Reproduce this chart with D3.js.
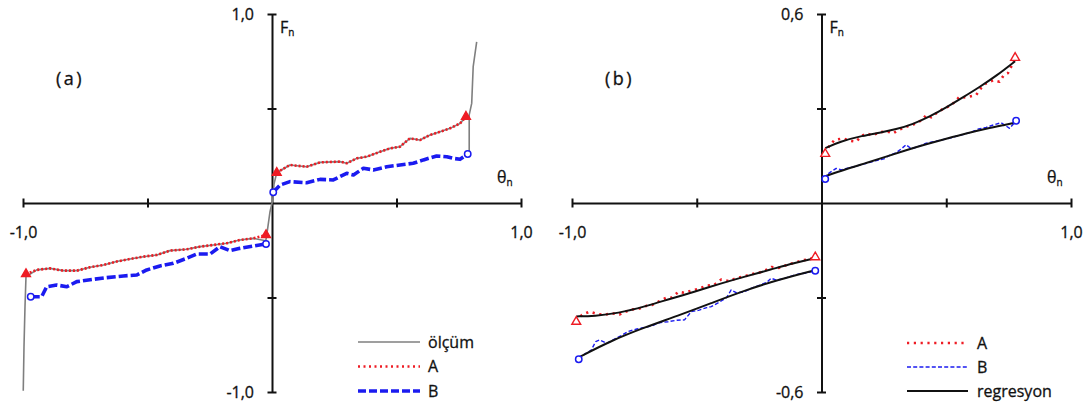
<!DOCTYPE html>
<html><head><meta charset="utf-8">
<script src="https://cdn.jsdelivr.net/npm/d3@7"></script>
<style>
body{margin:0;background:#fff;}
svg{display:block;}
text{font-family:"Open Sans",sans-serif;fill:#111;stroke:#111;stroke-width:0.3px;}
</style></head>
<body><svg id="c" width="1089" height="405"></svg>
<script>
// ---------- Panel (a) data: [theta_n, F_n] ----------
const aTicks = [-1, -0.5, 0.5, 1];
const aOlcum = [[-0.999,-0.993],[-0.996,-0.76],[-0.992,-0.549],[-0.988,-0.39],[-0.945,-0.354],[-0.892,-0.346],[-0.838,-0.358],[-0.784,-0.358],[-0.731,-0.34],[-0.677,-0.328],[-0.624,-0.31],[-0.57,-0.296],[-0.517,-0.284],[-0.463,-0.275],[-0.41,-0.252],[-0.343,-0.245],[-0.289,-0.231],[-0.236,-0.222],[-0.182,-0.213],[-0.129,-0.196],[-0.075,-0.187],[-0.025,-0.2],[-0.021,-0.169],[-0.008,-0.046],[0.003,0.016],[0.008,0.1],[0.019,0.16],[0.072,0.201],[0.139,0.192],[0.193,0.215],[0.273,0.219],[0.3,0.21],[0.34,0.236],[0.38,0.245],[0.434,0.271],[0.474,0.289],[0.514,0.298],[0.554,0.342],[0.594,0.333],[0.635,0.36],[0.675,0.377],[0.715,0.395],[0.755,0.421],[0.779,0.457]];
const aOlcumEdge = [[0.786,0.259],[0.792,0.271],[0.792,0.466],[0.802,0.527],[0.808,0.721],[0.822,0.853]];
const aALeft = [[-0.988,-0.376],[-0.945,-0.354],[-0.892,-0.346],[-0.838,-0.358],[-0.784,-0.358],[-0.731,-0.34],[-0.677,-0.328],[-0.624,-0.31],[-0.57,-0.296],[-0.517,-0.284],[-0.463,-0.275],[-0.41,-0.252],[-0.343,-0.245],[-0.289,-0.231],[-0.236,-0.222],[-0.182,-0.213],[-0.129,-0.196],[-0.075,-0.187],[-0.024,-0.169]];
const aARight = [[0.019,0.16],[0.072,0.201],[0.139,0.192],[0.193,0.215],[0.273,0.219],[0.3,0.21],[0.34,0.236],[0.38,0.245],[0.434,0.271],[0.474,0.289],[0.514,0.298],[0.554,0.342],[0.594,0.333],[0.635,0.36],[0.675,0.377],[0.715,0.395],[0.755,0.421],[0.779,0.457]];
const aBLeft = [[-0.969,-0.496],[-0.925,-0.496],[-0.905,-0.443],[-0.865,-0.434],[-0.824,-0.443],[-0.784,-0.416],[-0.718,-0.404],[-0.664,-0.395],[-0.597,-0.386],[-0.543,-0.381],[-0.503,-0.354],[-0.45,-0.333],[-0.396,-0.319],[-0.343,-0.293],[-0.302,-0.27],[-0.249,-0.27],[-0.209,-0.231],[-0.169,-0.252],[-0.129,-0.24],[-0.075,-0.228],[-0.024,-0.217]];
const aBRight = [[0.005,0.057],[0.032,0.095],[0.072,0.113],[0.139,0.107],[0.193,0.125],[0.246,0.122],[0.3,0.157],[0.327,0.148],[0.367,0.184],[0.407,0.175],[0.461,0.192],[0.514,0.201],[0.567,0.21],[0.608,0.228],[0.661,0.249],[0.702,0.245],[0.728,0.236],[0.755,0.231],[0.786,0.259]];

// ---------- Panel (b) data ----------
const bXTicks = [-1, -0.5, 0.5, 1];
const bYTicks = [-0.6, -0.3, 0.3, 0.6];
const bALeft = [[-0.983,-0.377],[-0.96,-0.355],[-0.93,-0.345],[-0.9,-0.352],[-0.87,-0.355],[-0.84,-0.35],[-0.81,-0.354],[-0.786,-0.345],[-0.76,-0.338],[-0.73,-0.335],[-0.7,-0.326],[-0.68,-0.324],[-0.65,-0.312],[-0.62,-0.3],[-0.6,-0.3],[-0.573,-0.282],[-0.55,-0.285],[-0.52,-0.278],[-0.49,-0.272],[-0.46,-0.262],[-0.43,-0.26],[-0.402,-0.243],[-0.37,-0.248],[-0.34,-0.238],[-0.31,-0.233],[-0.28,-0.226],[-0.25,-0.221],[-0.22,-0.212],[-0.2,-0.203],[-0.17,-0.206],[-0.14,-0.197],[-0.11,-0.19],[-0.08,-0.183],[-0.05,-0.178],[-0.025,-0.172]];
const bARight = [[0.015,0.156],[0.03,0.18],[0.052,0.2],[0.085,0.205],[0.11,0.198],[0.139,0.195],[0.16,0.212],[0.179,0.221],[0.205,0.215],[0.232,0.224],[0.26,0.228],[0.286,0.221],[0.31,0.232],[0.339,0.242],[0.37,0.25],[0.4,0.262],[0.42,0.279],[0.44,0.272],[0.46,0.285],[0.49,0.3],[0.52,0.31],[0.553,0.337],[0.58,0.335],[0.62,0.343],[0.64,0.365],[0.66,0.38],[0.69,0.39],[0.713,0.385],[0.73,0.405],[0.747,0.412],[0.765,0.44],[0.776,0.461]];
const bBLeft = [[-0.973,-0.496],[-0.95,-0.48],[-0.923,-0.467],[-0.905,-0.44],[-0.89,-0.435],[-0.86,-0.445],[-0.83,-0.432],[-0.8,-0.42],[-0.776,-0.408],[-0.74,-0.4],[-0.709,-0.395],[-0.68,-0.39],[-0.65,-0.38],[-0.615,-0.377],[-0.58,-0.372],[-0.549,-0.371],[-0.522,-0.345],[-0.49,-0.34],[-0.46,-0.332],[-0.442,-0.329],[-0.41,-0.315],[-0.38,-0.3],[-0.362,-0.276],[-0.34,-0.285],[-0.31,-0.282],[-0.28,-0.27],[-0.25,-0.262],[-0.22,-0.252],[-0.202,-0.239],[-0.18,-0.245],[-0.15,-0.24],[-0.12,-0.232],[-0.09,-0.225],[-0.06,-0.222],[-0.025,-0.215]];
const bBRight = [[0.015,0.076],[0.03,0.095],[0.059,0.11],[0.08,0.105],[0.1,0.11],[0.13,0.115],[0.16,0.122],[0.19,0.128],[0.22,0.135],[0.25,0.14],[0.27,0.15],[0.3,0.16],[0.32,0.172],[0.339,0.185],[0.36,0.172],[0.39,0.18],[0.42,0.19],[0.45,0.195],[0.48,0.2],[0.51,0.205],[0.54,0.212],[0.57,0.218],[0.6,0.225],[0.63,0.235],[0.66,0.24],[0.69,0.248],[0.72,0.255],[0.754,0.237],[0.78,0.261]];
const bRegALeft = [[-0.983,-0.36],[-0.91,-0.359],[-0.816,-0.35],[-0.709,-0.329],[-0.602,-0.303],[-0.509,-0.282],[-0.402,-0.255],[-0.309,-0.234],[-0.202,-0.211],[-0.108,-0.19],[-0.031,-0.176]];
const bRegARight = [[0.015,0.174],[0.072,0.195],[0.166,0.214],[0.232,0.223],[0.299,0.234],[0.366,0.25],[0.433,0.274],[0.5,0.303],[0.566,0.335],[0.633,0.368],[0.7,0.403],[0.776,0.45]];
const bRegBLeft = [[-0.973,-0.49],[-0.843,-0.437],[-0.709,-0.395],[-0.576,-0.358],[-0.442,-0.318],[-0.309,-0.278],[-0.175,-0.244],[-0.025,-0.213]];
const bRegBRight = [[0.015,0.085],[0.099,0.108],[0.179,0.127],[0.259,0.147],[0.339,0.168],[0.42,0.187],[0.5,0.204],[0.58,0.221],[0.66,0.236],[0.74,0.249],[0.776,0.255]];

const legendA = ["ölçüm", "A", "B"];
const legendB = ["A", "B", "regresyon"];

const RED = "#ee1c24", BLUE = "#1b1bf0", GRAY = "#7f7f7f";
const fmt = v => d3.format(".1f")(v).replace(".", ",").replace("−","-");
const svg = d3.select("#c");

function axes(g, x, y, xt, yt, yEnd){
  const xa = g.append("g").attr("transform", `translate(0,${y(0)})`)
    .call(d3.axisBottom(x).tickValues(xt).tickSizeOuter(0)
      .tickFormat(d => Math.abs(d) === 1 ? fmt(d) : ""));
  xa.select(".domain").attr("stroke", "#111").attr("stroke-width", 2);
  xa.selectAll(".tick line").attr("y1", -4.5).attr("y2", 4.5).attr("stroke", "#111").attr("stroke-width", 2);
  xa.selectAll(".tick text").attr("y", 24).attr("font-size", 16).attr("fill", "#111").attr("font-family", "Open Sans");
  const ya = g.append("g").attr("transform", `translate(${x(0)},0)`)
    .call(d3.axisLeft(y).tickValues(yt).tickSizeOuter(0)
      .tickFormat(d => Math.abs(d) === yEnd ? fmt(d) : ""));
  ya.select(".domain").attr("stroke", "#111").attr("stroke-width", 2);
  ya.selectAll(".tick line").attr("x1", -4.5).attr("x2", 4.5).attr("stroke", "#111").attr("stroke-width", 2);
  ya.selectAll(".tick text").attr("x", -18).attr("font-size", 16).attr("fill", "#111").attr("font-family", "Open Sans");
}
function labels(g, x, y, tag){
  g.append("text").attr("x", x(0) + 8).attr("y", 33).attr("font-size", 16)
    .text("F").append("tspan").attr("font-size", 10).attr("dy", 3).text("n");
  g.append("text").attr("x", x(1) - 24).attr("y", 183).attr("font-size", 16)
    .text("θ").append("tspan").attr("font-size", 10).attr("dy", 3).text("n");
  g.append("text").attr("x", x(-1) + 33).attr("y", 85).attr("font-size", 18)
    .attr("letter-spacing", 2.5).text(tag);
}
const line = (x, y, c) => d3.line().x(d => x(d[0])).y(d => y(d[1])).curve(c || d3.curveLinear);
function path(g, data, gen, stroke, w, dash){
  g.append("path").datum(data).attr("d", gen).attr("fill", "none")
    .attr("stroke", stroke).attr("stroke-width", w)
    .attr("stroke-dasharray", dash || null).attr("stroke-linecap", "butt").attr("stroke-linejoin", "round");
}
function tri(g, x, y, p, fill){
  g.append("path").attr("d", d3.symbol(d3.symbolTriangle, 34)())
    .attr("transform", `translate(${x(p[0])},${y(p[1])})`)
    .attr("fill", fill).attr("stroke", RED).attr("stroke-width", 1.4);
}
function circ(g, x, y, p){
  g.append("circle").attr("cx", x(p[0])).attr("cy", y(p[1])).attr("r", 3.2)
    .attr("fill", "#fff").attr("stroke", BLUE).attr("stroke-width", 1.5);
}

// ---------- Panel (a) ----------
{
  const g = svg.append("g");
  const x = d3.scaleLinear().domain([-1, 1]).range([23, 521]);
  const y = d3.scaleLinear().domain([-1, 1]).range([392, 14]);
  axes(g, x, y, aTicks, aTicks, 1);
  labels(g, x, y, "(a)");
  const ln = line(x, y);
  path(g, aOlcum, ln, GRAY, 1.6);
  path(g, aOlcumEdge, ln, GRAY, 1.6);
  path(g, aALeft, ln, RED, 2.6, "2,2");
  path(g, aARight, ln, RED, 2.6, "2,2");
  path(g, aBLeft, ln, BLUE, 3.6, "9,3");
  path(g, aBRight, ln, BLUE, 3.6, "9,3");
  tri(g, x, y, aALeft[0], RED); tri(g, x, y, aALeft[aALeft.length-1], RED);
  tri(g, x, y, aARight[0], RED); tri(g, x, y, aARight[aARight.length-1], RED);
  circ(g, x, y, aBLeft[0]); circ(g, x, y, aBLeft[aBLeft.length-1]);
  circ(g, x, y, aBRight[0]); circ(g, x, y, aBRight[aBRight.length-1]);
  const lg = g.append("g");
  const styles = [[GRAY, 1.6, null], [RED, 2.6, "2,3.5"], [BLUE, 3.6, "8,3"]];
  legendA.forEach((t, i) => {
    const yy = 342 + i * 24.5;
    lg.append("line").attr("x1", 358).attr("x2", 420).attr("y1", yy).attr("y2", yy)
      .attr("stroke", styles[i][0]).attr("stroke-width", styles[i][1]).attr("stroke-dasharray", styles[i][2]);
    lg.append("text").attr("x", 428).attr("y", yy + 5.5).attr("font-size", 16).text(t);
  });
}

// ---------- Panel (b) ----------
{
  const g = svg.append("g");
  const x = d3.scaleLinear().domain([-1, 1]).range([572, 1071]);
  const y = d3.scaleLinear().domain([-0.6, 0.6]).range([392, 14]);
  axes(g, x, y, bXTicks, bYTicks, 0.6);
  labels(g, x, y, "(b)");
  const ln = line(x, y);
  const lc = line(x, y, d3.curveBasis);
  path(g, bALeft, ln, RED, 2.6, "2.2,4.6");
  path(g, bARight, ln, RED, 2.6, "2.2,4.6");
  path(g, bBLeft, ln, BLUE, 1.4, "4,2.2");
  path(g, bBRight, ln, BLUE, 1.4, "4,2.2");
  [bRegALeft, bRegARight, bRegBLeft, bRegBRight].forEach(d => path(g, d, lc, "#111", 2));
  tri(g, x, y, bALeft[0], "#fff"); tri(g, x, y, bALeft[bALeft.length-1], "#fff");
  tri(g, x, y, bARight[0], "#fff"); tri(g, x, y, bARight[bARight.length-1], "#fff");
  circ(g, x, y, bBLeft[0]); circ(g, x, y, bBLeft[bBLeft.length-1]);
  circ(g, x, y, bBRight[0]); circ(g, x, y, bBRight[bBRight.length-1]);
  const lg = g.append("g");
  const styles = [[RED, 2.6, "2.2,4.6"], [BLUE, 1.4, "4,2.2"], ["#111", 2, null]];
  legendB.forEach((t, i) => {
    const yy = 343 + i * 24;
    lg.append("line").attr("x1", 907).attr("x2", 968).attr("y1", yy).attr("y2", yy)
      .attr("stroke", styles[i][0]).attr("stroke-width", styles[i][1]).attr("stroke-dasharray", styles[i][2]);
    lg.append("text").attr("x", 977).attr("y", yy + 5.5).attr("font-size", 16).text(t);
  });
}
</script></body></html>
